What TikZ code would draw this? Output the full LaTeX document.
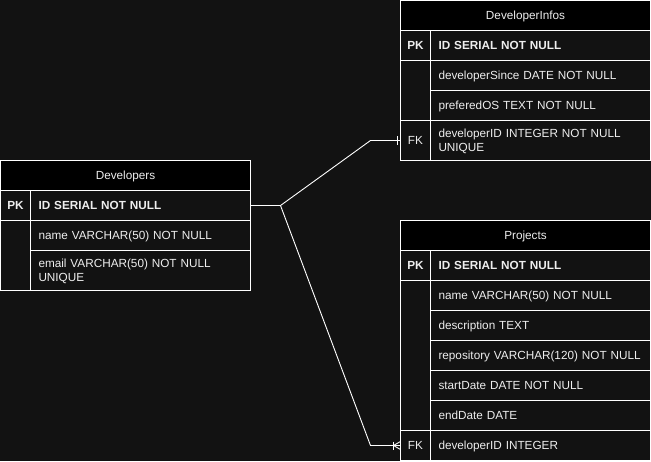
\documentclass[tikz,border=0pt]{standalone}
\usepackage{fontspec}
\setmainfont{Liberation Sans}
\definecolor{bgc}{HTML}{121212}
\definecolor{fgc}{HTML}{EEEEEE}
\begin{document}
\begin{tikzpicture}[x=1pt,y=-1pt,
  every node/.style={font=\fontsize{11.75}{14.5}\selectfont, text=fgc},
  bf/.style={font=\fontsize{11.75}{14.5}\selectfont\bfseries},
  cell/.style={draw=white, line width=1pt, fill=bgc, anchor=north west, inner sep=0pt, outer sep=0pt, text height=8.4pt, text depth=0pt},
  twoline/.style={text depth=14.5pt},
  hdr/.style={cell, fill=black, minimum width=250pt, minimum height=30pt},
  keyc/.style={cell, minimum width=30pt, minimum height=#1},
  fld/.style={cell, text width=204pt, minimum width=220pt, align=left, inner xsep=8pt, minimum height=#1},
  conn/.style={draw=white, line width=0.9pt},
]
\fill[bgc] (0,0) rectangle (651,461);
\useasboundingbox (0,0) rectangle (651,461);
\begin{scope}[shift={(0.5,0.5)}]
% Developers
\node[hdr] (devh) at (0,160) {Developers};
\node[keyc=30pt, bf] (devpkk) at (0,190) {PK};
\node[fld=30pt, bf] (devpk) at (30,190) {ID SERIAL NOT NULL};
\node[keyc=70pt] (devk2) at (0,220) {};
\node[fld=30pt] (devname) at (30,220) {name VARCHAR(50) NOT NULL};
\node[fld=40pt, twoline] (devemail) at (30,250) {email VARCHAR(50) NOT NULL\\UNIQUE};
% DeveloperInfos
\node[hdr] (dih) at (400,0) {DeveloperInfos};
\node[keyc=30pt, bf] (dipkk) at (400,30) {PK};
\node[fld=30pt, bf] (dipk) at (430,30) {ID SERIAL NOT NULL};
\node[keyc=60pt] (dik2) at (400,60) {};
\node[fld=30pt] (disince) at (430,60) {developerSince DATE NOT NULL};
\node[fld=30pt] (dios) at (430,90) {preferedOS TEXT NOT NULL};
\node[keyc=40pt] (difk) at (400,120) {FK};
\node[fld=40pt, twoline] (didev) at (430,120) {developerID INTEGER NOT NULL\\UNIQUE};
% Projects
\node[hdr] (prh) at (400,220) {Projects};
\node[keyc=30pt, bf] (prpkk) at (400,250) {PK};
\node[fld=30pt, bf] (prpk) at (430,250) {ID SERIAL NOT NULL};
\node[keyc=150pt] (prk2) at (400,280) {};
\node[fld=30pt] (prname) at (430,280) {name VARCHAR(50) NOT NULL};
\node[fld=30pt] (prdesc) at (430,310) {description TEXT};
\node[fld=30pt] (prrepo) at (430,340) {\mbox{repository VARCHAR(120) NOT NULL}};
\node[fld=30pt] (prstart) at (430,370) {startDate DATE NOT NULL};
\node[fld=30pt] (prend) at (430,400) {endDate DATE};
\node[keyc=30pt] (prfk) at (400,430) {FK};
\node[fld=30pt] (prdev) at (430,430) {developerID INTEGER};
% connectors
\coordinate (jn) at ([xshift=30pt]devpk.east);
\draw[conn] (devpk.east) -- (jn) -- ([xshift=-30pt]difk.west) -- (difk.west);
\draw[conn] (jn) -- ([xshift=-30pt]prfk.west) -- (prfk.west);
% one
\draw[conn] ([xshift=-3.5pt,yshift=4.5pt]difk.west) -- ([xshift=-3.5pt,yshift=-4.5pt]difk.west);
% mandatory many
\draw[conn] ([xshift=-7pt,yshift=4pt]prfk.west) -- ([xshift=-7pt,yshift=-4pt]prfk.west);
\draw[conn] ([yshift=4pt]prfk.west) -- ([xshift=-7pt]prfk.west) -- ([yshift=-4pt]prfk.west);
\end{scope}
\end{tikzpicture}
\end{document}
